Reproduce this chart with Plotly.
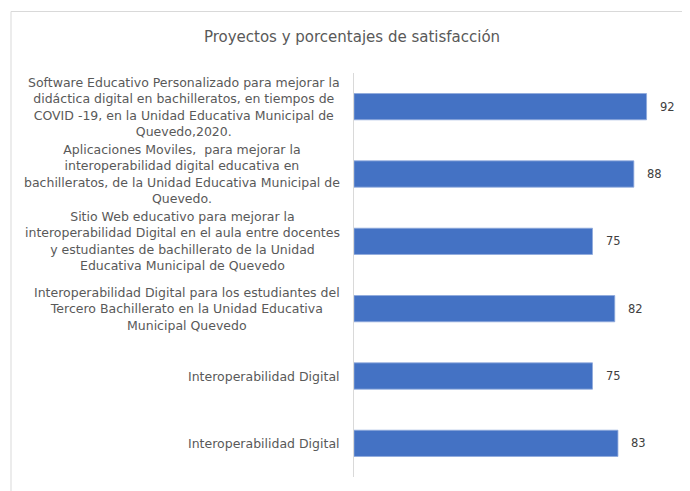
import plotly.graph_objects as go

categories = [
    "Software Educativo Personalizado para mejorar la<br>didáctica digital en bachilleratos, en tiempos de<br>COVID -19, en la Unidad Educativa Municipal de<br>Quevedo,2020.",
    "Aplicaciones Moviles,  para mejorar la<br>interoperabilidad digital educativa en<br>bachilleratos, de la Unidad Educativa Municipal de<br>Quevedo.",
    "Sitio Web educativo para mejorar la<br>interoperabilidad Digital en el aula entre docentes<br>y estudiantes de bachillerato de la Unidad<br>Educativa Municipal de Quevedo",
    "Interoperabilidad Digital para los estudiantes del<br>Tercero Bachillerato en la Unidad Educativa<br>Municipal Quevedo",
    "Interoperabilidad Digital",
    "Interoperabilidad Digital",
]
values = [92, 88, 75, 82, 75, 83]
title_text = "Proyectos y porcentajes de satisfacción"

FONT = "DejaVu Sans"
GRAY = "#595959"

# page body has an 8px offset; figure coordinates are relative to it
OFF = 8
W, H = 690 - OFF, 491 - OFF
L, R, T, B = 354 - OFF, 18, 73 - OFF, 14
PW, PH = W - L - R, H - T - B

positions = list(range(len(categories)))

fig = go.Figure()
fig.add_trace(go.Bar(
    x=values, y=positions, orientation="h",
    marker=dict(color="#4472C4", line=dict(color="#8FAADC", width=0.8)),
    width=0.39, hoverinfo="skip",
))

annotations = []
for p, c, v in zip(positions, categories, values):
    annotations.append(dict(
        x=0, y=p, xref="x", yref="y", text=c, showarrow=False,
        xanchor="right", yanchor="middle", xshift=-12, align="center",
        font=dict(family=FONT, size=12.5, color=GRAY),
    ))
    annotations.append(dict(
        x=v, y=p, xref="x", yref="y", text=str(v), showarrow=False,
        xanchor="left", yanchor="middle", xshift=11,
        font=dict(family=FONT, size=11.5, color="#404040"),
    ))

x_left = (11 - OFF - L) / PW
y_top = (PH + T - (11.5 - OFF)) / PH
border = dict(color="#D9D9D9", width=1)

fig.update_layout(
    width=W, height=H,
    margin=dict(l=L, r=R, t=T, b=B),
    paper_bgcolor="white", plot_bgcolor="white",
    showlegend=False,
    title=dict(text=title_text, x=(352 - OFF) / W, xanchor="center", y=1 - (37 - OFF) / H, yanchor="middle",
               font=dict(family=FONT, size=15, color=GRAY)),
    xaxis=dict(range=[0, 100], showgrid=False, zeroline=False, showticklabels=False,
               showline=False, fixedrange=True),
    yaxis=dict(range=[len(categories) - 0.5, -0.5], showticklabels=False, showgrid=False, zeroline=False,
               showline=True, linecolor="#D9D9D9", linewidth=1, ticks="", fixedrange=True),
    annotations=annotations,
    shapes=[
        dict(type="line", xref="paper", yref="paper", x0=x_left, x1=(W - L) / PW,
             y0=y_top, y1=y_top, line=border, layer="below"),
        dict(type="line", xref="paper", yref="paper", x0=x_left, x1=x_left,
             y0=-(B + 5) / PH, y1=y_top, line=border, layer="below"),
    ],
)

fig.write_html("out.html")
